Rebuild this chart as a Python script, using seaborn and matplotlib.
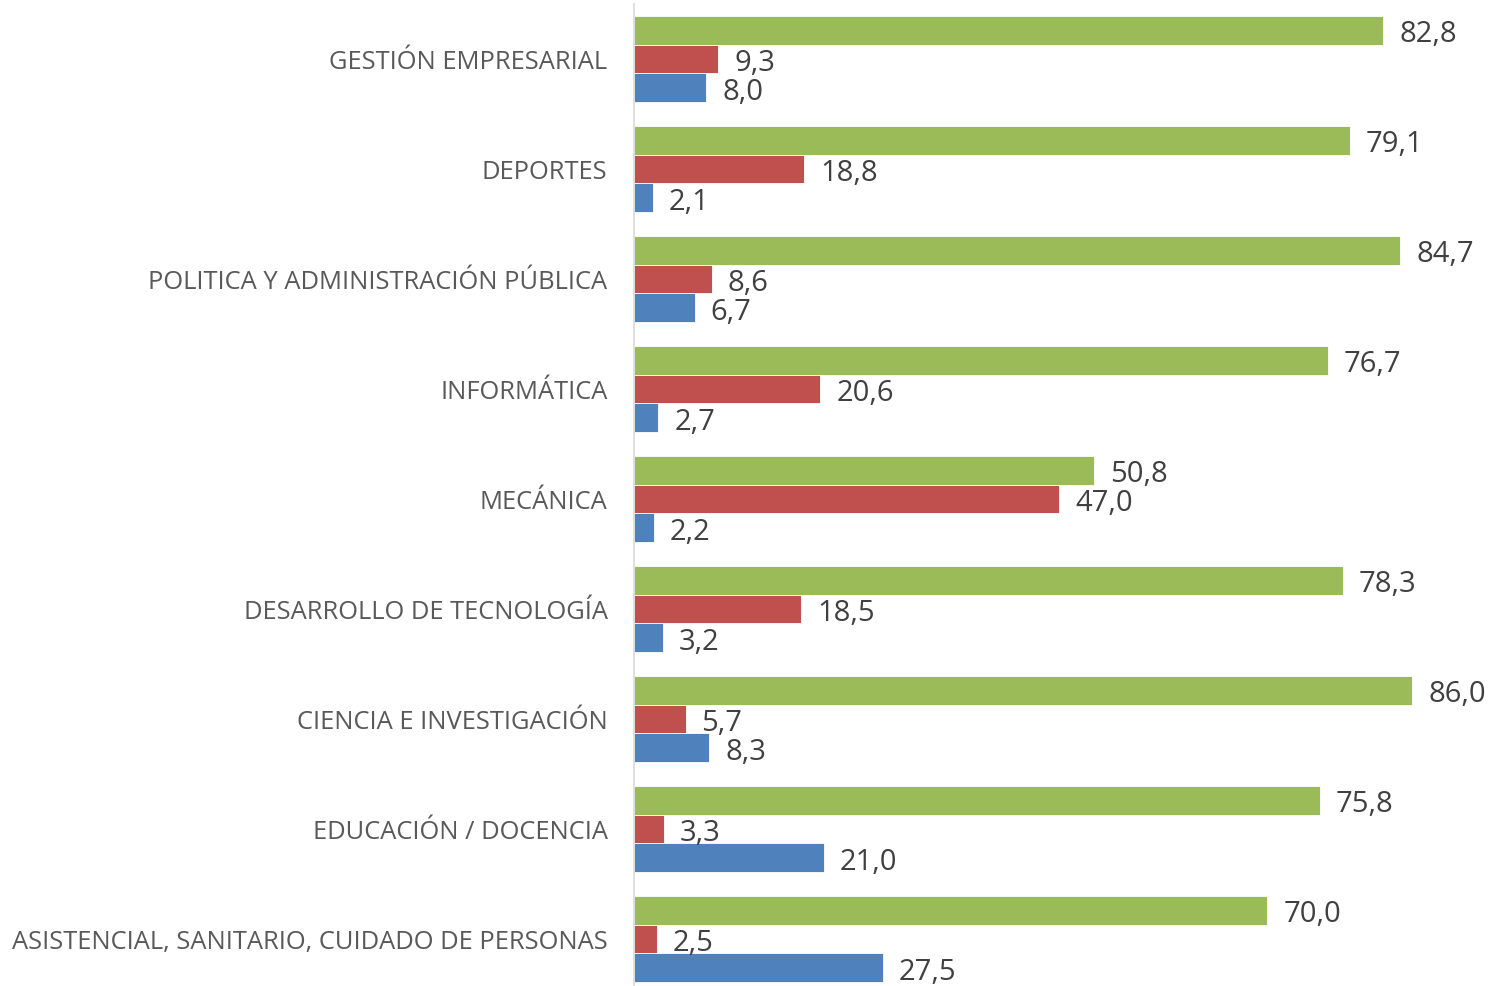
import matplotlib
matplotlib.use('Agg')
import matplotlib.pyplot as plt
import seaborn as sns
import pandas as pd

# categories, top to bottom
categorias = ['GESTIÓN EMPRESARIAL', 'DEPORTES', 'POLITICA Y ADMINISTRACIÓN PÚBLICA',
              'INFORMÁTICA', 'MECÁNICA', 'DESARROLLO DE TECNOLOGÍA',
              'CIENCIA E INVESTIGACIÓN', 'EDUCACIÓN / DOCENCIA',
              'ASISTENCIAL, SANITARIO, CUIDADO DE PERSONAS']
serie_verde = [82.8, 79.1, 84.7, 76.7, 50.8, 78.3, 86.0, 75.8, 70.0]
serie_roja = [9.3, 18.8, 8.6, 20.6, 47.0, 18.5, 5.7, 3.3, 2.5]
serie_azul = [8.0, 2.1, 6.7, 2.7, 2.2, 3.2, 8.3, 21.0, 27.5]
series = ['verde', 'roja', 'azul']
colores = {'verde': '#9BBB59', 'roja': '#C0504D', 'azul': '#4F81BD'}

df = pd.DataFrame({
    'categoria': categorias * 3,
    'serie': ['verde'] * 9 + ['roja'] * 9 + ['azul'] * 9,
    'valor': serie_verde + serie_roja + serie_azul,
})

sns.set_style('white')
plt.rcParams['font.family'] = ['Open Sans', 'DejaVu Sans']

fig = plt.figure(figsize=(14.9, 9.87), dpi=100)
ax = fig.add_axes([634 / 1490, -8 / 987, 856 / 1490, 990 / 987])

sns.barplot(data=df, x='valor', y='categoria', hue='serie', order=categorias,
            hue_order=series, palette=colores, saturation=1, orient='h', width=0.79,
            edgecolor='white', linewidth=0.6, legend=False, ax=ax)

ax.set_xlim(0, 94.6)
ax.set_xlabel('')
ax.set_ylabel('')
ax.set_xticks([])
for s in ['top', 'right', 'bottom']:
    ax.spines[s].set_visible(False)
ax.spines['left'].set_color('#D9D9D9')
ax.spines['left'].set_linewidth(1.2)
ax.tick_params(axis='y', length=0, pad=19, labelsize=18.4, labelcolor='#595959')

for cont in ax.containers:
    labels = [f'{v:.1f}'.replace('.', ',') for v in cont.datavalues]
    txts = ax.bar_label(cont, labels=labels, padding=11.5, fontsize=21, color='#404040')
    for t in txts:
        t.set_va('center_baseline')

fig.savefig('out.png', dpi=100)
